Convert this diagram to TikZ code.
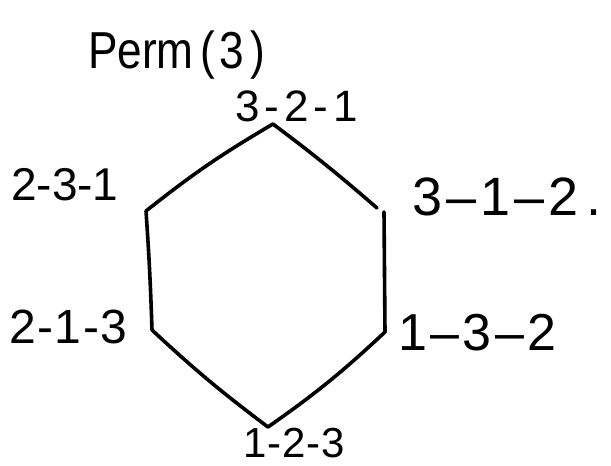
\documentclass[tikz,border=0pt]{standalone}
\usepackage{fontspec}
\usepackage{graphicx}
\setmainfont{Liberation Sans}
\newdimen\lsp
\newcommand\kk{\kern\lsp}
\tikzset{
  edge/.style={line width=3.6pt, line cap=round, line join=round},
  lbl/.style={inner sep=0pt, anchor=base west},
}
\begin{document}
\begin{tikzpicture}[x=1pt,y=-1pt]
\useasboundingbox[fill=white] (0,0) rectangle (611,466);
% vertices
\coordinate (t) at (273,124);
\coordinate (tr) at (377,208);
\coordinate (ul) at (146,211);
\coordinate (ll) at (152,330);
\coordinate (b) at (268,427);
\coordinate (lr) at (385,332);
\coordinate (ur) at (384,212);
% edges
\draw[edge] (t) to[bend right=4] (ul);
\draw[edge] (ul) to[bend left=1] (ll);
\draw[edge] (ll) to[bend right=3] (b);
\draw[edge] (b) to[bend right=4] (lr);
\draw[edge] (lr) -- (ur);
\draw[edge] (t) to[bend left=2] (tr);
% labels
\node[lbl, font=\fontsize{52}{56}\selectfont] (title) at (88,68) {\scalebox{0.85}[1]{Perm\kern8pt(\kern5pt3\kern8pt)}};
\node[lbl, font=\fontsize{44}{48}\selectfont] (l321) at (235,121) {\lsp=5pt 3\kk-\kk2\kk-\kk1};
\node[lbl, font=\fontsize{46}{50}\selectfont] (l231) at (11,200) {\lsp=0pt 2\kk-\kk3\kk-\kk1};
\node[lbl, font=\fontsize{54}{58}\selectfont] (l312) at (412,215) {\lsp=4pt 3\kk–\kk1\kk–\kk2\kern8pt.};
\node[lbl, font=\fontsize{48}{52}\selectfont] (l213) at (9,343) {\lsp=1.5pt 2\kk-\kk1\kk-\kk3};
\node[lbl, font=\fontsize{52}{56}\selectfont] (l132) at (398,350) {\lsp=3.5pt 1\kk–\kk3\kk–\kk2};
\node[lbl, font=\fontsize{42}{46}\selectfont] (l123) at (243,457) {\lsp=1pt 1\kk-\kk2\kk-\kk3};
\end{tikzpicture}
\end{document}
